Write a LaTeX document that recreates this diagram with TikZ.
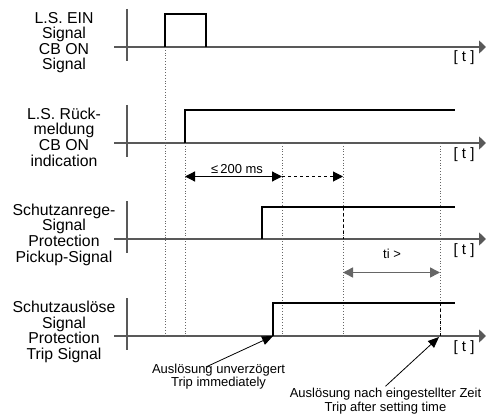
\documentclass[tikz,border=0pt]{standalone}
\usepackage{fontspec}
\setmainfont{Liberation Sans}
\usetikzlibrary{arrows.meta}

\begin{document}
\begin{tikzpicture}[x=1pt,y=-1pt,
    >={Triangle[length=10pt,width=10pt]},
    axis/.style={draw=black!65, line width=1.4pt},
    trace/.style={line width=1.5pt},
    tmark/.style={black!60, dotted, line width=0.8pt},
    lbl/.style={align=center, inner sep=0pt, anchor=base, font=\fontsize{15.8}{15.3}\selectfont},
    tlbl/.style={inner sep=0pt, anchor=base, font=\fontsize{15}{15}\selectfont},
    note/.style={align=center, inner sep=0pt, anchor=base, font=\fontsize{13}{12}\selectfont},
    small/.style={inner sep=0pt, anchor=base, font=\fontsize{13}{13}\selectfont}]

    \useasboundingbox (0,0) rectangle (486,414);

    %axes
    \foreach \y/\n in {47/a,143/b,239/c,336/d}{
        \draw[axis, -{Triangle[length=7pt,width=13pt]}] (114,\y) -- (486,\y);
        \draw[axis] (127,\y-38) -- (127,\y+14);
        \node[tlbl] (t\n) at (464,\y+15) {[ t ]};
    }

    %labels
    \node[lbl] (lsein) at (64,38.5) {L.S. EIN\\Signal};
    \node[lbl] (cbon) at (64,70) {CB ON\\Signal};
    \node[lbl] (lsrm) at (64,134.5) {L.S. Rück-\\meldung};
    \node[lbl] (cbind) at (64,166) {CB ON\\indication};
    \node[lbl] (anreg) at (64,230.5) {Schutzanrege-\\Signal};
    \node[lbl] (pickup) at (64,262) {Protection\\Pickup-Signal};
    \node[lbl] (ausl) at (64,328) {Schutzauslöse\\Signal};
    \node[lbl] (trip) at (64,359) {Protection\\Trip Signal};

    %time marks
    \draw[tmark] (165,47) -- (165,336);
    \foreach \x in {185,282,343,440}
        \draw[tmark] (\x,143) -- (\x,337);
    \draw[dashed, line width=0.9pt] (343,207) -- (343,239);
    \draw[dashed, line width=0.9pt] (440,303) -- (440,336);

    %signals
    \draw[trace] (165,47) -- (165,14) -- (206,14) -- (206,47);
    \draw[trace] (185,143) -- (185,110) -- (455,110);
    \draw[trace] (262,239) -- (262,207) -- (455,207);
    \draw[trace] (273,336) -- (273,303) -- (455,303);

    %times
    \coordinate (rm) at (185,176.5);
    \coordinate (rmmax) at (282,176.5);
    \coordinate (pu) at (343,176.5);
    \draw[line width=1.2pt, <->] (rm) -- (rmmax);
    \draw[dashed, line width=1pt, ->] (rmmax) -- (pu);
    \node[small] (lim) at (237,173) {≤\,200 ms};

    \coordinate (tia) at (343,272.5);
    \coordinate (tib) at (440,272.5);
    \draw[black!60, line width=1.5pt, <->] (tia) -- (tib);
    \node[small] (ti) at (392,258) {ti >};

    %trips
    \coordinate (tripa) at (273,336);
    \coordinate (tripb) at (439,337);
    \node[note] (imm) at (218.5,386.7) {Auslösung unverzögert\\Trip immediately};
    \node[note] (sett) at (385.5,411) {Auslösung nach eingestellter Zeit\\Trip after setting time};
    \draw[line width=0.8pt, -{Triangle[length=11pt,width=9pt]}] ([xshift=-12.5pt,yshift=-3pt]imm.north) -- (tripa);
    \draw[line width=0.8pt, -{Triangle[length=11pt,width=9pt]}] ([yshift=2pt]sett.north) -- (tripb);

\end{tikzpicture}
\end{document}
